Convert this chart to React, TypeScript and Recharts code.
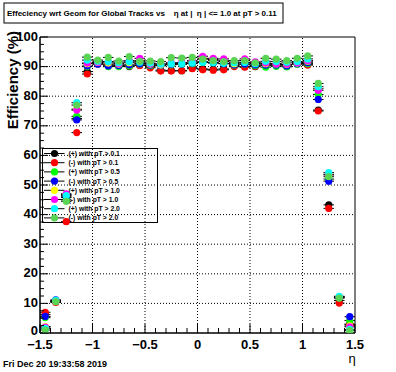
import React from 'react';
import { ScatterChart, Scatter, XAxis, YAxis, ErrorBar, ReferenceLine, ReferenceArea, Customized } from 'recharts';

// ---- data ----
const etaBins = [-1.45, -1.35, -1.25, -1.15, -1.05, -0.95, -0.85, -0.75, -0.65, -0.55, -0.45, -0.35, -0.25, -0.15, -0.05, 0.05, 0.15, 0.25, 0.35, 0.45, 0.55, 0.65, 0.75, 0.85, 0.95, 1.05, 1.15, 1.25, 1.35, 1.45];
const binHalfWidth = 0.05;

const effPosPt01 = [6.2, 10.8, 45.8, 72.5, 88.3, 91.0, 90.5, 90.2, 90.0, 90.5, 89.9, 88.8, 88.7, 88.6, 89.6, 89.2, 89.1, 89.2, 90.2, 90.0, 90.0, 90.4, 90.6, 90.5, 91.0, 90.8, 75.3, 43.3, 11.0, 3.0];
const effNegPt01 = [7.0, 10.3, 37.6, 67.7, 87.5, 90.9, 90.6, 90.3, 90.2, 90.4, 89.6, 88.5, 88.5, 88.6, 89.3, 88.9, 88.8, 88.9, 90.0, 89.8, 90.1, 90.6, 90.8, 90.7, 91.2, 90.5, 75.0, 42.1, 10.1, 2.8];
const effPosPt05 = [5.2, 10.6, 45.0, 73.2, 90.0, 91.0, 90.0, 90.0, 90.2, 90.9, 90.3, 90.4, 90.6, 90.8, 91.0, 91.5, 91.2, 91.0, 90.5, 90.8, 90.3, 89.8, 90.1, 89.9, 90.8, 91.0, 80.6, 52.0, 11.9, 4.2];
const effNegPt05 = [5.6, 11.2, 46.2, 72.0, 90.2, 90.8, 90.2, 90.4, 90.6, 91.0, 90.5, 90.3, 90.7, 90.9, 91.1, 91.6, 91.3, 91.0, 90.6, 90.9, 90.6, 90.5, 90.5, 90.2, 91.0, 91.3, 78.9, 51.3, 12.1, 5.5];
const effPosPt10 = [2.2, 10.9, 46.8, 75.6, 91.0, 91.4, 91.2, 90.8, 91.3, 92.0, 90.8, 90.5, 91.0, 91.1, 91.6, 92.8, 92.4, 92.0, 91.0, 92.1, 91.2, 91.0, 90.9, 90.7, 91.2, 91.8, 82.5, 53.6, 12.3, 2.4];
const effNegPt10 = [2.0, 10.7, 47.0, 75.3, 91.2, 91.5, 91.6, 91.0, 92.0, 92.8, 91.0, 90.9, 91.3, 91.4, 92.0, 93.5, 92.8, 92.6, 91.5, 92.6, 91.6, 91.2, 91.0, 90.8, 91.3, 92.0, 82.0, 53.4, 12.2, 2.1];
const effPosPt20 = [1.6, 11.0, 46.4, 77.8, 92.2, 91.8, 91.7, 91.3, 91.6, 91.5, 91.2, 90.8, 91.0, 91.0, 91.2, 91.5, 91.4, 91.1, 91.3, 91.4, 91.0, 91.8, 91.7, 91.5, 91.7, 92.6, 83.2, 54.2, 12.4, 1.2];
const effNegPt20 = [1.0, 10.6, 44.5, 77.0, 93.2, 92.2, 93.1, 91.9, 93.4, 91.8, 91.9, 91.7, 93.0, 92.9, 93.1, 92.5, 92.0, 91.7, 92.0, 92.0, 91.3, 92.8, 92.5, 92.0, 92.8, 93.6, 84.3, 52.8, 11.8, 0.8];

const seriesNames = [
  '(+) with pT > 0.1',
  '(-) with pT > 0.1',
  '(+) with pT > 0.5',
  '(-) with pT > 0.5',
  '(+) with pT > 1.0',
  '(-) with pT > 1.0',
  '(+) with pT > 2.0',
  '(-) with pT > 2.0',
];
const seriesValues = [effPosPt01, effNegPt01, effPosPt05, effNegPt05, effPosPt10, effNegPt10, effPosPt20, effNegPt20];
const seriesColors = ['#000000', '#ff0000', '#00ff00', '#0000ff', '#ffff00', '#ff00ff', '#00ffff', '#59d454'];

const xTicks = [-1.5, -1.4, -1.3, -1.2, -1.1, -1.0, -0.9, -0.8, -0.7, -0.6, -0.5, -0.4, -0.3, -0.2, -0.1, 0, 0.1, 0.2, 0.3, 0.4, 0.5, 0.6, 0.7, 0.8, 0.9, 1.0, 1.1, 1.2, 1.3, 1.4, 1.5];
const xMajorTicks = [-1.5, -1, -0.5, 0, 0.5, 1, 1.5];
const yTicks = [0, 2.5, 5, 7.5, 10, 12.5, 15, 17.5, 20, 22.5, 25, 27.5, 30, 32.5, 35, 37.5, 40, 42.5, 45, 47.5, 50, 52.5, 55, 57.5, 60, 62.5, 65, 67.5, 70, 72.5, 75, 77.5, 80, 82.5, 85, 87.5, 90, 92.5, 95, 97.5, 100];
const yMajorTicks = [0, 10, 20, 30, 40, 50, 60, 70, 80, 90, 100];
const xGrid = [-1, -0.5, 0, 0.5, 1];
const yGrid = [10, 20, 30, 40, 50, 60, 70, 80, 90];

const titleText = 'Effeciency wrt Geom for Global Tracks vs    \u03b7 at |  \u03b7 | <= 1.0 at pT > 0.11';
const yTitle = 'Efficiency (%)';
const xTitle = '\u03b7';
const dateText = 'Fri Dec 20 19:33:58 2019';

// ---- helpers ----
const FONT = '"Liberation Sans", Arial, Helvetica, sans-serif';
const isIn = (v: number, arr: number[]) => arr.some((a) => Math.abs(a - v) < 1e-6);
const fmt = (v: number) => {
  const s = Math.abs(v - Math.round(v)) < 1e-6 ? String(Math.round(v)) : v.toFixed(1);
  return s.replace('-', '\u2212');
};

const XTick = (p: any) => {
  const { x, y, payload } = p;
  const major = isIn(payload.value, xMajorTicks);
  return (
    <g>
      <line x1={x} x2={x} y1={y} y2={y - (major ? 9 : 5)} stroke="#000" strokeWidth={1} />
      {major && (
        <text x={x} y={y + 16} textAnchor="middle" fontFamily={FONT} fontWeight="bold" fontSize={13} fill="#000">
          {fmt(payload.value)}
        </text>
      )}
    </g>
  );
};

const YTick = (p: any) => {
  const { x, y, payload } = p;
  const major = isIn(payload.value, yMajorTicks);
  const dy = payload.value === 0 ? -3 : -1;
  return (
    <g>
      <line x1={x} x2={x + (major ? 8 : 4)} y1={y} y2={y} stroke="#000" strokeWidth={1} />
      {major && (
        <text x={x - 2} y={y + dy} textAnchor="end" dominantBaseline="central" fontFamily={FONT} fontWeight="bold" fontSize={13} fill="#000">
          {fmt(payload.value)}
        </text>
      )}
    </g>
  );
};

const LegendBox = () => {
  const left = 42.5;
  const top = 148.5;
  const w = 115;
  const h = 74;
  const rowH = 9.2;
  return (
    <g>
      <rect x={left} y={top} width={w} height={h} fill="#fff" stroke="#000" strokeWidth={1} />
      {seriesNames.map((name, i) => {
        const cy = top + 5 + i * rowH;
        return (
          <g key={name}>
            <line x1={left + 1.5} x2={left + 22} y1={cy} y2={cy} stroke="#000" strokeWidth={1} />
            <circle cx={left + 12} cy={cy} r={3.6} fill={seriesColors[i]} />
            <text x={left + 26} y={cy} dominantBaseline="central" fontFamily={FONT} fontWeight="bold" fontSize={6.8} fill="#000">
              {name}
            </text>
          </g>
        );
      })}
    </g>
  );
};

const seriesData = seriesValues.map((vals) => etaBins.map((x, i) => ({ x, y: vals[i], ex: binHalfWidth })));

export default function App() {
  return (
    <div style={{ position: 'absolute', left: 0, top: 0, width: 396, height: 372, background: '#fff' }}>
      <ScatterChart width={396} height={372} margin={{ top: 37, right: 41, bottom: 0, left: 0 }}>
        <XAxis
          type="number"
          dataKey="x"
          domain={[-1.5, 1.5]}
          ticks={xTicks}
          interval={0}
          tickSize={0}
          tickMargin={0}
          tickLine={false}
          tick={(p: any) => <XTick {...p} />}
          height={39}
          axisLine={{ stroke: '#000' }}
          allowDataOverflow
        />
        <YAxis
          type="number"
          dataKey="y"
          domain={[0, 100]}
          ticks={yTicks}
          interval={0}
          tickSize={0}
          tickMargin={0}
          tickLine={false}
          tick={(p: any) => <YTick {...p} />}
          width={40}
          axisLine={{ stroke: '#000' }}
          allowDataOverflow
        />
        {xGrid.map((v) => (
          <ReferenceLine key={'gx' + v} x={v} stroke="#000" strokeDasharray="1 2" />
        ))}
        {yGrid.map((v) => (
          <ReferenceLine key={'gy' + v} y={v} stroke="#000" strokeDasharray="1 2" />
        ))}
        <ReferenceArea x1={-1.5} x2={1.5} y1={0} y2={100} fill="none" stroke="#000" strokeWidth={1} />
        <Customized component={LegendBox} />
        {seriesData.map((d, i) => (
          <Scatter
            key={seriesNames[i]}
            name={seriesNames[i]}
            data={d}
            fill={seriesColors[i]}
            isAnimationActive={false}
            shape={(p: any) => <circle cx={p.cx} cy={p.cy} r={3.6} fill={seriesColors[i]} />}
          >
            <ErrorBar dataKey="ex" direction="x" width={0} stroke="#000" strokeWidth={1} isAnimationActive={false} />
          </Scatter>
        ))}
      </ScatterChart>
      <svg width={396} height={372} style={{ position: 'absolute', left: 0, top: 0, pointerEvents: 'none' }}>
        <rect x={4} y={3} width={279} height={20} fill="#fff" stroke="#000" strokeWidth={1} />
        <text x={7} y={16} fontFamily={FONT} fontWeight="bold" fontSize={8} fill="#000" style={{ whiteSpace: 'pre' }} xmlSpace="preserve">
          {titleText}
        </text>
        <text transform="translate(12.5,31) rotate(-90)" textAnchor="end" dominantBaseline="central" fontFamily={FONT} fontWeight="bold" fontSize={15} fill="#000">
          {yTitle}
        </text>
        <text x={352} y={363} textAnchor="middle" fontFamily={FONT} fontSize={13} fill="#000">
          {xTitle}
        </text>
        <text x={3} y={367} fontFamily={FONT} fontWeight="bold" fontSize={9} fill="#000">
          {dateText}
        </text>
      </svg>
    </div>
  );
}
